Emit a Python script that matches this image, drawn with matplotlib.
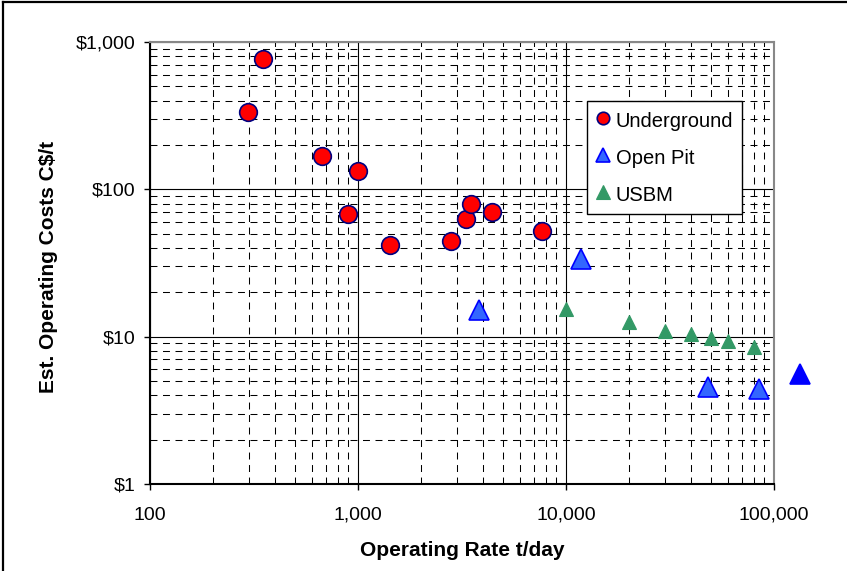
import matplotlib
matplotlib.use("Agg")
import matplotlib.pyplot as plt
from matplotlib.lines import Line2D
from matplotlib.ticker import FixedLocator, FixedFormatter, LogLocator, NullFormatter

# ---- data ----
underground_rate = [296, 351, 671, 1000, 898, 1425, 2790, 3305, 3494, 4424, 7670]
underground_cost = [335, 763, 169, 134, 68, 42, 44.8, 62.5, 79, 70, 52]

openpit_rate = [3830, 11850, 48200, 84700]
openpit_cost = [15.2, 33.6, 4.53, 4.41]

openpit_extra_rate = [134000]
openpit_extra_cost = [5.57]

usbm_rate = [10000, 20000, 30000, 40000, 50000, 60000, 80000]
usbm_cost = [15.3, 12.5, 11.0, 10.4, 9.8, 9.3, 8.5]

x_ticks = [100, 1000, 10000, 100000]
x_ticklabels = ["100", "1,000", "10,000", "100,000"]
y_ticks = [1, 10, 100, 1000]
y_ticklabels = ["$1", "$10", "$100", "$1,000"]

series_labels = ["Underground", "Open Pit", "USBM"]
x_label = "Operating Rate t/day"
y_label = "Est. Operating Costs C$/t"

# ---- figure ----
plt.rcParams['font.family'] = ['Liberation Sans', 'DejaVu Sans']
plt.rcParams['lines.scale_dashes'] = False

W, H = 847, 571
fig = plt.figure(figsize=(W / 100, H / 100), dpi=100)
ax = fig.add_axes([150 / W, (H - 484) / H, 624 / W, 442 / H])

ax.set_xscale('log')
ax.set_yscale('log')
ax.set_xlim(100, 100000)
ax.set_ylim(1, 1000)

# grids
ax.xaxis.set_minor_locator(LogLocator(base=10, subs=range(2, 10)))
ax.yaxis.set_minor_locator(LogLocator(base=10, subs=range(2, 10)))
ax.xaxis.set_minor_formatter(NullFormatter())
ax.yaxis.set_minor_formatter(NullFormatter())
ax.grid(which='minor', color='black', linestyle=(0, (5, 4)), linewidth=0.75)
ax.grid(which='major', color='black', linestyle='-', linewidth=0.8)
ax.set_axisbelow(True)

ax.xaxis.set_major_locator(FixedLocator(x_ticks))
ax.xaxis.set_major_formatter(FixedFormatter(x_ticklabels))
ax.yaxis.set_major_locator(FixedLocator(y_ticks))
ax.yaxis.set_major_formatter(FixedFormatter(y_ticklabels))
ax.tick_params(which='major', direction='out', length=4.5, width=1,
               labelsize=14, color='black')
ax.tick_params(axis='x', which='major', pad=12)
ax.tick_params(axis='y', which='major', pad=6)
ax.tick_params(which='minor', length=0)

for s in ['left', 'bottom']:
    ax.spines[s].set_color('black')
    ax.spines[s].set_linewidth(1.5)
for s in ['top', 'right']:
    ax.spines[s].set_color('#888888')
    ax.spines[s].set_linewidth(1.5)

# series
ax.plot(underground_rate, underground_cost, linestyle='none', marker='o',
        markersize=12.7, markerfacecolor='#FF0000', markeredgecolor='#000080',
        markeredgewidth=1.2, zorder=5)
ax.plot(openpit_rate, openpit_cost, linestyle='none', marker='^',
        markersize=14.5, markerfacecolor='#3366FF', markeredgecolor='#0000FF',
        markeredgewidth=1.2, zorder=5)
ax.plot(openpit_extra_rate, openpit_extra_cost, linestyle='none', marker='^',
        markersize=14.5, markerfacecolor='#0000FF', markeredgecolor='#0000FF',
        markeredgewidth=1.2, zorder=5, clip_on=False)
ax.plot(usbm_rate, usbm_cost, linestyle='none', marker='^',
        markersize=9.5, markerfacecolor='#339966', markeredgecolor='#339966',
        markeredgewidth=0.8, zorder=5)

# legend
handles = [
    Line2D([], [], linestyle='none', marker='o', markersize=9,
           markerfacecolor='#FF0000', markeredgecolor='#000080', markeredgewidth=1.2),
    Line2D([], [], linestyle='none', marker='^', markersize=10,
           markerfacecolor='#3366FF', markeredgecolor='#0000FF', markeredgewidth=1.2),
    Line2D([], [], linestyle='none', marker='^', markersize=10,
           markerfacecolor='#339966', markeredgecolor='#339966', markeredgewidth=0.8),
]
leg = fig.legend(handles, series_labels, loc='upper left',
                 bbox_to_anchor=(587 / W, 1 - 101 / H), borderaxespad=0,
                 fontsize=14.5, frameon=True, fancybox=False, shadow=False,
                 handlelength=0.7, handleheight=1.25, handletextpad=0.3,
                 labelspacing=0.78, borderpad=0.42, framealpha=1)
leg.get_frame().set_edgecolor('black')
leg.get_frame().set_linewidth(1.0)

# axis labels
fig.text(48 / W, 1 - 267 / H, y_label, rotation=90, ha='center', va='center',
         fontsize=15, fontweight='bold')
fig.text((150 + 312) / W, 1 - 551 / H, x_label, ha='center', va='center',
         fontsize=15, fontweight='bold')

# outer border (top and left visible)
fig.add_artist(Line2D([3 / W, 3 / W], [0, 1 - 2 / H], transform=fig.transFigure,
                      color='black', linewidth=1.6))
fig.add_artist(Line2D([3 / W, 1], [1 - 2 / H, 1 - 2 / H], transform=fig.transFigure,
                      color='black', linewidth=1.6))

fig.savefig('out.png', dpi=100)
